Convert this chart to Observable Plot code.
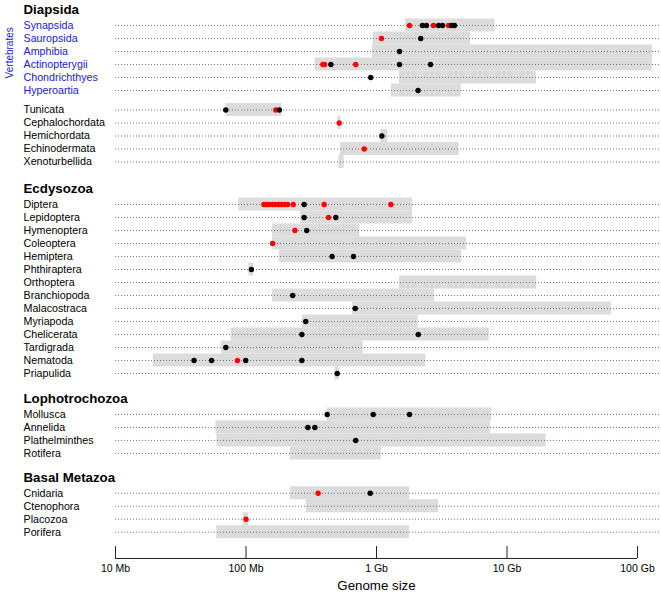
<!DOCTYPE html>
<html><head><meta charset="utf-8">
<script src="https://cdn.jsdelivr.net/npm/d3@7"></script>
<script src="https://cdn.jsdelivr.net/npm/@observablehq/plot@0.6"></script>
<style>html,body{margin:0;padding:0;background:#fff;overflow:hidden}</style>
</head><body><div id="chart"></div>
<script>
// ---------- data ----------
const blockHeader = ["Diapsida", null, "Ecdysozoa", "Lophotrochozoa", "Basal Metazoa"];
const vertebrateRows = ["Synapsida", "Sauropsida", "Amphibia", "Actinopterygii", "Chondrichthyes", "Hyperoartia"];
const otherDeuterostomeRows = ["Tunicata", "Cephalochordata", "Hemichordata", "Echinodermata", "Xenoturbellida"];
const ecdysozoaRows = ["Diptera", "Lepidoptera", "Hymenoptera", "Coleoptera", "Hemiptera", "Phthiraptera", "Orthoptera",
  "Branchiopoda", "Malacostraca", "Myriapoda", "Chelicerata", "Tardigrada", "Nematoda", "Priapulida"];
const lophotrochozoaRows = ["Mollusca", "Annelida", "Plathelminthes", "Rotifera"];
const basalMetazoaRows = ["Cnidaria", "Ctenophora", "Placozoa", "Porifera"];
const vertebrateLabel = "Vertebrates";
const axisTitle = "Genome size";

// genome size range per taxon (Mb), in row order
const rangeLow = [1670, 944, 927, 339, 1500, 1300,
  70, 505, 1074, 530, 514,
  88, 262, 160, 160, 180, 105, 1500, 160, 655, 271, 77, 65, 19.5, 480,
  419, 58.7, 59.8, 219,
  219, 289, 95, 59.8];
const rangeHigh = [8090, 5250, 130000, 130000, 16800, 4460,
  189, 535, 1222, 4300, 565,
  1890, 1890, 745, 4900, 4480, 115, 16900, 2780, 63200, 2090, 7310, 791, 2390, 520,
  7660, 7480, 19950, 1091,
  1790, 2985, 105, 1790];

// sequenced genomes (Mb); highlighted = red
const pointTaxon = [
  "Synapsida","Synapsida","Synapsida","Synapsida","Synapsida","Synapsida","Synapsida","Synapsida","Synapsida",
  "Sauropsida","Sauropsida","Amphibia",
  "Actinopterygii","Actinopterygii","Actinopterygii","Actinopterygii","Actinopterygii","Actinopterygii",
  "Chondrichthyes","Hyperoartia","Tunicata","Tunicata","Tunicata","Cephalochordata","Hemichordata","Echinodermata",
  "Diptera","Diptera","Diptera","Diptera","Diptera","Diptera","Diptera","Diptera","Diptera","Diptera","Diptera","Diptera","Diptera",
  "Lepidoptera","Lepidoptera","Lepidoptera","Hymenoptera","Hymenoptera","Coleoptera","Hemiptera","Hemiptera",
  "Phthiraptera","Branchiopoda","Malacostraca","Myriapoda","Chelicerata","Chelicerata","Tardigrada",
  "Nematoda","Nematoda","Nematoda","Nematoda","Nematoda","Priapulida",
  "Mollusca","Mollusca","Mollusca","Annelida","Annelida","Plathelminthes","Cnidaria","Cnidaria","Placozoa"];
const pointGenomeMb = [
  1790, 2250, 2415, 2730, 2990, 3206, 3560, 3760, 3963,
  1091, 2183, 1500,
  388, 400, 447, 693, 1500, 2594,
  904, 2083, 70, 169, 180, 518, 1099, 805,
  137, 144, 151, 160, 168, 178, 187, 197, 208, 230, 279, 397, 1289,
  279, 429, 488, 237, 292, 160, 457, 667,
  110, 228, 687, 287, 268, 2090, 70,
  40, 54.5, 86, 99.5, 268, 500,
  419, 944, 1790, 298, 337, 693, 357, 895, 100];
const pointHighlighted = [
  true, false, false, true, false, false, true, false, false,
  true, false, false,
  true, true, false, true, false, false,
  false, false, false, true, false, true, false, true,
  true, true, true, true, true, true, true, true, true, true, false, true, true,
  false, true, false, true, false, true, false, false,
  false, false, false, false, false, false, false,
  false, false, true, false, false, false,
  false, false, false, false, false, false, true, false, true];

const tickValues = [10, 100, 1000, 10000, 100000];
const tickLabels = ["10 Mb", "100 Mb", "1 Gb", "10 Gb", "100 Gb"];

// ---------- layout ----------
const blocks = [vertebrateRows, otherDeuterostomeRows, ecdysozoaRows, lophotrochozoaRows, basalMetazoaRows];
const blockStart = [0, 6.5, 13.77, 29.92, 35.98];
const headerOffset = 1.2;
const lineEndMb = 150000;
const axisSlot = 41, tickTopSlot = 40.08;
const blue = "#2020d0";

const rows = [];
blocks.forEach((names, b) => names.forEach((name, i) =>
  rows.push({name, slot: blockStart[b] + i, vert: b === 0})));
rows.forEach((r, i) => { r.lo = rangeLow[i]; r.hi = rangeHigh[i]; });
const slotOf = new Map(rows.map(r => [r.name, r.slot]));
const points = pointTaxon.map((t, i) => ({slot: slotOf.get(t), v: pointGenomeMb[i], red: pointHighlighted[i]}));
const headers = blockHeader.map((h, b) => ({h, slot: blockStart[b] - headerOffset})).filter(d => d.h);

const chart = Plot.plot({
  width: 661, height: 596,
  marginLeft: 115, marginRight: 24, marginTop: 0, marginBottom: 38,
  style: {fontFamily: "'Liberation Sans', Arial, sans-serif", fontSize: "10.5px", background: "white", overflow: "visible"},
  x: {type: "log", domain: [10, 100000], range: [115, 637], axis: null},
  y: {domain: [0, 39], range: [25, 532], axis: null},
  marks: [
    Plot.rect(rows, {x1: "lo", x2: "hi", y1: d => d.slot - 0.5, y2: d => d.slot + 0.5, fill: "#dcdcdc"}),
    Plot.ruleY(rows, {y: "slot", x1: 10, x2: lineEndMb, stroke: "#777", strokeDasharray: "1,2", strokeWidth: 1}),
    Plot.dot(points.filter(d => d.red), {x: "v", y: "slot", r: 2.7, fill: "#ff0000"}),
    Plot.dot(points.filter(d => !d.red), {x: "v", y: "slot", r: 2.7, fill: "#000"}),
    Plot.text(rows.filter(d => d.vert), {y: "slot", text: "name", frameAnchor: "left", textAnchor: "start", dx: -92, fontSize: 10.7, fill: blue}),
    Plot.text(rows.filter(d => !d.vert), {y: "slot", text: "name", frameAnchor: "left", textAnchor: "start", dx: -92, fontSize: 10.7, fill: "#000"}),
    Plot.text(headers, {y: "slot", text: "h", frameAnchor: "left", textAnchor: "start", dx: -92, fontSize: 13.3, fontWeight: "bold", fill: "#000"}),
    Plot.text([vertebrateLabel], {y: () => 2.1, text: d => d, frameAnchor: "left", textAnchor: "middle", dx: -106, rotate: -90, fontSize: 10, fill: blue}),
    Plot.ruleY([axisSlot], {x1: 10, x2: 100000, stroke: "#222"}),
    Plot.ruleX(tickValues, {x: d => d, y1: tickTopSlot, y2: axisSlot, stroke: "#222"}),
    Plot.axisX({ticks: tickValues, tickFormat: d => tickLabels[tickValues.indexOf(d)], tickSize: 0, tickPadding: 6, label: null, fontSize: 10.5}),
    Plot.text([axisTitle], {x: 1000, text: d => d, frameAnchor: "bottom", dy: 31, fontSize: 13.3, fill: "#000"})
  ]
});
document.getElementById("chart").appendChild(chart);
</script>
</body></html>
